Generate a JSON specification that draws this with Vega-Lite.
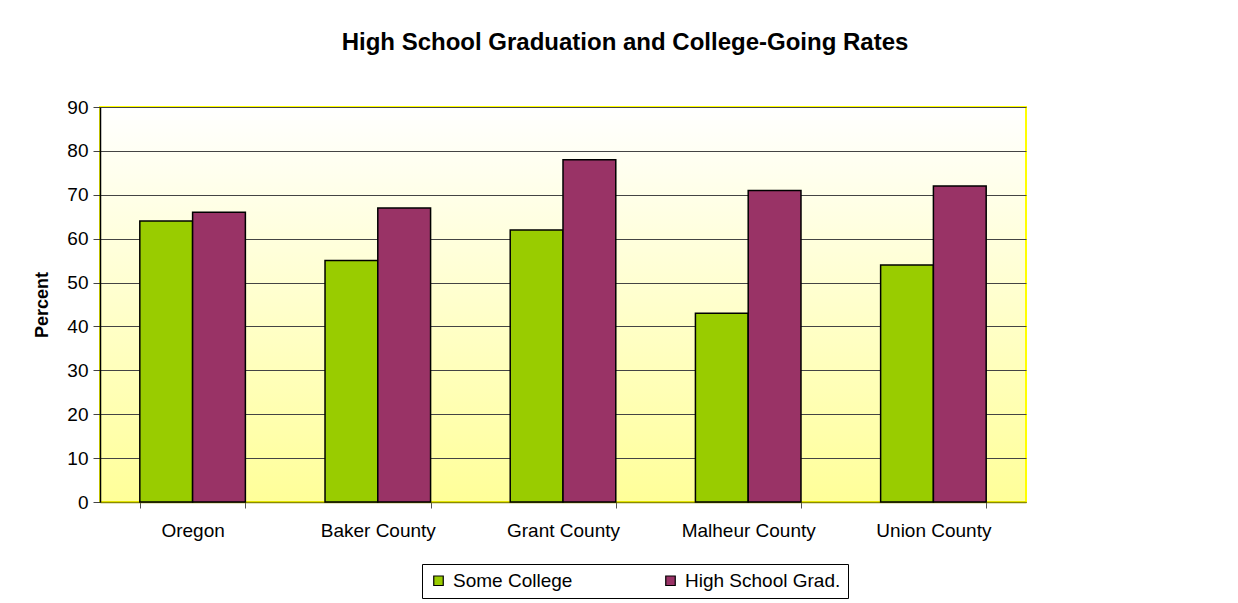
{
  "$schema": "https://vega.github.io/schema/vega-lite/v6.json",
  "width": 926,
  "height": 395,
  "autosize": {"type": "none"},
  "padding": {"left": 100, "top": 107, "right": 212, "bottom": 101},
  "background": "white",
  "title": {
    "text": "High School Graduation and College-Going Rates",
    "font": "Liberation Sans",
    "fontSize": 24,
    "fontWeight": "bold",
    "color": "black",
    "anchor": "middle",
    "frame": "group",
    "dx": 62,
    "offset": 43
  },
  "data": {
    "values": [
      {"region": "Oregon", "series": "Some College", "value": 64},
      {"region": "Oregon", "series": "High School Grad.", "value": 66},
      {"region": "Baker County", "series": "Some College", "value": 55},
      {"region": "Baker County", "series": "High School Grad.", "value": 67},
      {"region": "Grant County", "series": "Some College", "value": 62},
      {"region": "Grant County", "series": "High School Grad.", "value": 78},
      {"region": "Malheur County", "series": "Some College", "value": 43},
      {"region": "Malheur County", "series": "High School Grad.", "value": 71},
      {"region": "Union County", "series": "Some College", "value": 54},
      {"region": "Union County", "series": "High School Grad.", "value": 72}
    ]
  },
  "mark": {"type": "bar", "stroke": "black", "strokeWidth": 1.5},
  "encoding": {
    "x": {
      "field": "region",
      "type": "nominal",
      "sort": ["Oregon", "Baker County", "Grant County", "Malheur County", "Union County"],
      "scale": {"paddingInner": 0.43, "paddingOuter": 0.215},
      "axis": {
        "title": null,
        "labelAngle": 0,
        "labelFont": "Liberation Sans",
        "labelFontSize": 19,
        "labelColor": "black",
        "labelPadding": 13,
        "tickBand": "extent",
        "tickColor": "#555555",
        "tickSize": 6,
        "domainColor": "#8a8a00",
        "domainWidth": 1.5,
        "grid": false
      }
    },
    "xOffset": {
      "field": "series",
      "type": "nominal",
      "sort": ["Some College", "High School Grad."],
      "scale": {"paddingInner": 0, "paddingOuter": 0}
    },
    "y": {
      "field": "value",
      "type": "quantitative",
      "scale": {"domain": [0, 90], "nice": false},
      "axis": {
        "title": "Percent",
        "titleFont": "Liberation Sans",
        "titleFontSize": 18,
        "titleFontWeight": "bold",
        "titleColor": "black",
        "titlePadding": 15,
        "values": [0, 10, 20, 30, 40, 50, 60, 70, 80, 90],
        "labelFont": "Liberation Sans",
        "labelFontSize": 19,
        "labelColor": "black",
        "labelPadding": 5,
        "tickColor": "#444444",
        "tickSize": 7,
        "domainColor": "black",
        "domainWidth": 1.5,
        "grid": true,
        "gridColor": "#444444",
        "gridWidth": 1
      }
    },
    "color": {
      "field": "series",
      "type": "nominal",
      "sort": ["Some College", "High School Grad."],
      "scale": {"domain": ["Some College", "High School Grad."], "range": ["#99CC00", "#993366"]},
      "legend": {
        "title": null,
        "orient": "none",
        "direction": "horizontal",
        "legendX": 322,
        "legendY": 457,
        "padding": 7,
        "strokeColor": "black",
        "fillColor": "white",
        "columnPadding": 88,
        "symbolType": "square",
        "symbolSize": 90,
        "symbolStrokeColor": "black",
        "symbolStrokeWidth": 1.2,
        "symbolOpacity": 1,
        "labelFont": "Liberation Sans",
        "labelFontSize": 19,
        "labelColor": "black",
        "labelOffset": 5,
        "labelLimit": 300
      }
    }
  },
  "config": {
    "view": {
      "fill": {
        "gradient": "linear",
        "x1": 0, "y1": 0, "x2": 0, "y2": 1,
        "stops": [
          {"offset": 0, "color": "#FFFFFF"},
          {"offset": 1, "color": "#FFFF99"}
        ]
      },
      "stroke": "#FFFF00",
      "strokeWidth": 2
    }
  }
}
